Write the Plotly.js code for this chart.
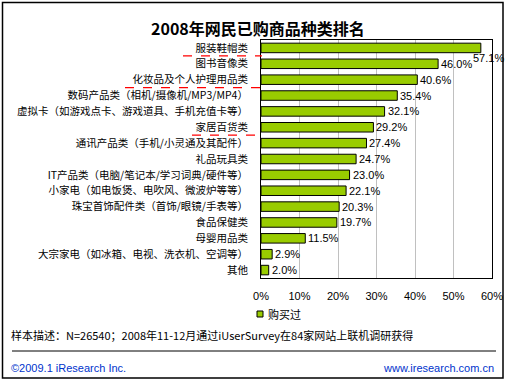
<!DOCTYPE html>
<html>
<head>
<meta charset="utf-8">
<script src="https://cdn.plot.ly/plotly-3.0.1.min.js"></script>
<style>
html,body{margin:0;padding:0;background:#fff;}
#chart{width:509px;height:381px;}
</style>
</head>
<body>
<div id="chart"></div>
<script>
const categories = [
  "服装鞋帽类",
  "图书音像类",
  "化妆品及个人护理用品类",
  "数码产品类（相机/摄像机/MP3/MP4）",
  "虚拟卡（如游戏点卡、游戏道具、手机充值卡等）",
  "家居百货类",
  "通讯产品类（手机/小灵通及其配件）",
  "礼品玩具类",
  "IT产品类（电脑/笔记本/学习词典/硬件等）",
  "小家电（如电饭煲、电吹风、微波炉等等）",
  "珠宝首饰配件类（首饰/眼镜/手表等）",
  "食品保健类",
  "母婴用品类",
  "大宗家电（如冰箱、电视、洗衣机、空调等）",
  "其他"
];
const purchased = [57.1, 46.0, 40.6, 35.4, 32.1, 29.2, 27.4, 24.7, 23.0, 22.1, 20.3, 19.7, 11.5, 2.9, 2.0];
const seriesName = "购买过";
const xTickVals = [0, 10, 20, 30, 40, 50, 60];
const xTickText = ["0%", "10%", "20%", "30%", "40%", "50%", "60%"];
const highlightAfter = [0, 2, 5];

const W = 509, H = 381, L = 261, R = 17, T = 40, B = 103;
const PW = W - L - R, PH = H - T - B;
const px = v => (v - L) / PW;
const py = v => (H - B - v) / PH;

const CJK = "'Noto Sans CJK SC', 'Liberation Sans', sans-serif";
const LAT = "'Liberation Sans', 'Noto Sans CJK SC', sans-serif";

const annotations = purchased.map((v, i) => ({
  x: v, y: categories[i], xref: 'x', yref: 'y',
  text: v.toFixed(1) + '%', showarrow: false,
  xanchor: 'left', yanchor: 'middle',
  xshift: i === 0 ? -10 : 1, yshift: i === 0 ? -10 : 0,
  font: {family: LAT, size: 11, color: '#000'}
}));

annotations.push(
  {x: px(258), y: py(28), xref: 'paper', yref: 'paper', text: '<b>2008年网民已购商品种类排名</b>',
   showarrow: false, xanchor: 'center', yanchor: 'middle', font: {family: CJK, size: 16, color: '#000'}},
  {x: px(266), y: py(314), xref: 'paper', yref: 'paper', text: seriesName,
   showarrow: false, xanchor: 'left', yanchor: 'middle', font: {family: CJK, size: 11, color: '#000'}},
  {x: px(9), y: py(335), xref: 'paper', yref: 'paper',
   text: '样本描述：N=26540；2008年11-12月通过iUserSurvey在84家网站上联机调研获得',
   showarrow: false, xanchor: 'left', yanchor: 'middle', font: {family: CJK, size: 11, color: '#000'}},
  {x: px(9), y: py(368), xref: 'paper', yref: 'paper', text: '©2009.1 iResearch Inc.',
   showarrow: false, xanchor: 'left', yanchor: 'middle', font: {family: LAT, size: 11, color: '#0033CC'}},
  {x: px(496), y: py(368), xref: 'paper', yref: 'paper', text: 'www.iresearch.com.cn',
   showarrow: false, xanchor: 'right', yanchor: 'middle', font: {family: LAT, size: 11, color: '#0033CC'}}
);

const lineStarts = [183, 125, 192];
const shapes = [
  {type: 'rect', xref: 'paper', yref: 'paper', x0: px(2.5), x1: px(503), y0: py(2.5), y1: py(378),
   line: {color: '#000', width: 1.5}, fillcolor: 'rgba(0,0,0,0)', layer: 'below'},
  {type: 'line', xref: 'paper', yref: 'paper', x0: px(12), x1: px(496), y0: py(351), y1: py(351),
   line: {color: '#000', width: 1}},
  {type: 'rect', xref: 'paper', yref: 'paper', x0: px(257), x1: px(263), y0: py(311), y1: py(317),
   line: {color: '#000', width: 1}, fillcolor: '#99CC00'}
];
const rowH = PH / categories.length;
highlightAfter.forEach((idx, k) => {
  const yy = py(T + rowH * (idx + 1));
  shapes.push({type: 'line', xref: 'paper', yref: 'paper', x0: px(lineStarts[k]), x1: px(262),
    y0: yy, y1: yy, line: {color: '#FF0000', width: 1.2, dash: 'dash'}});
});

const trace = {
  type: 'bar', orientation: 'h', name: seriesName,
  x: purchased, y: categories, width: 0.6,
  marker: {color: '#99CC00', line: {color: '#000', width: 1}},
  hoverinfo: 'x+y'
};

const layout = {
  width: W, height: H, autosize: false,
  margin: {l: L, r: R, t: T, b: B, pad: 0},
  paper_bgcolor: '#fff', plot_bgcolor: '#fff',
  showlegend: false,
  xaxis: {
    range: [0, 60], autorange: false, tickvals: xTickVals, ticktext: xTickText, automargin: false,
    showgrid: true, gridcolor: '#c0c0c0', gridwidth: 1, zeroline: false,
    showline: true, linecolor: '#000', linewidth: 1, mirror: true,
    ticks: 'outside', ticklen: 8, tickcolor: 'rgba(0,0,0,0)',
    tickfont: {family: LAT, size: 11, color: '#000'}, fixedrange: true
  },
  yaxis: {
    type: 'category', autorange: false, range: [categories.length - 0.5, -0.5], automargin: false,
    showgrid: false, zeroline: false,
    showline: true, linecolor: '#000', linewidth: 1, mirror: true,
    ticks: 'outside', ticklen: 10, tickcolor: 'rgba(0,0,0,0)',
    tickfont: {family: CJK, size: 10.5, color: '#000'}, fixedrange: true
  },
  annotations: annotations,
  shapes: shapes
};

Plotly.newPlot('chart', [trace], layout, {displayModeBar: false, staticPlot: true});
</script>
</body>
</html>
